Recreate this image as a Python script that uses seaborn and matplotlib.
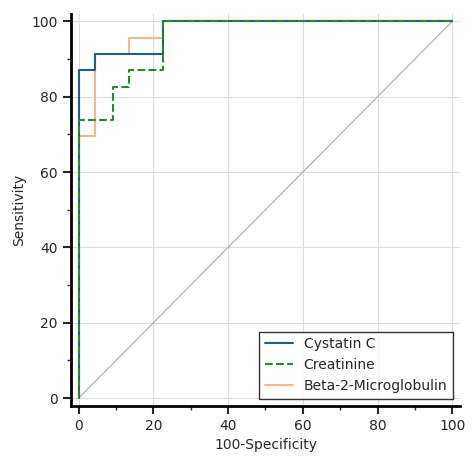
import numpy as np
import pandas as pd
import matplotlib
matplotlib.use("Agg")
import matplotlib.pyplot as plt
import seaborn as sns

# ROC curve points (100-specificity, sensitivity)
cys_x = [0, 0, 4.5, 4.5, 22.7, 22.7, 100]
cys_y = [0, 87.0, 87.0, 91.3, 91.3, 100, 100]
cre_x = [0, 0, 9.1, 9.1, 13.6, 13.6, 22.7, 22.7, 100]
cre_y = [0, 73.9, 73.9, 82.6, 82.6, 87.0, 87.0, 100, 100]
b2m_x = [0, 0, 4.5, 4.5, 13.6, 13.6, 22.7, 22.7, 100]
b2m_y = [0, 69.6, 69.6, 91.3, 91.3, 95.7, 95.7, 100, 100]

sns.set_style("white")
plt.rcParams['font.family'] = ['DejaVu Sans']
fig, ax = plt.subplots(figsize=(4.74, 4.61), dpi=100)
ax.grid(True, color="#dddddd", lw=0.8)
ax.plot([0, 100], [0, 100], color="#aaaaaa", lw=0.8)
sns.lineplot(x=b2m_x, y=b2m_y, sort=False, estimator=None, color="#f2b98a", lw=1.5,
             label="Beta-2-Microglobulin", ax=ax, zorder=3)
sns.lineplot(x=cys_x, y=cys_y, sort=False, estimator=None, color="#1f5f8b", lw=1.5,
             label="Cystatin C", ax=ax, zorder=4)
sns.lineplot(x=cre_x, y=cre_y, sort=False, estimator=None, color="#2a8a2a", lw=1.5, ls="--",
             label="Creatinine", ax=ax, zorder=5)

h, l = ax.get_legend_handles_labels()
order = [1, 2, 0]
leg = ax.legend([h[i] for i in order], [l[i] for i in order], loc="lower right",
                fancybox=False, edgecolor="black", fontsize=10)
leg.get_frame().set_linewidth(1.0)

ax.set_xlim(-2, 102)
ax.set_ylim(-2, 102)
ax.set_xticks(range(0, 101, 20))
ax.set_yticks(range(0, 101, 20))
ax.set_xticks(range(0, 101, 10), minor=True)
ax.set_yticks(range(0, 101, 10), minor=True)
ax.tick_params(which="both", direction="out", bottom=True, left=True, labelsize=10)
ax.tick_params(which="major", length=6, width=1.5)
ax.tick_params(which="minor", length=3, width=1)
for s in ["top", "right"]:
    ax.spines[s].set_visible(False)
for s in ["left", "bottom"]:
    ax.spines[s].set_linewidth(2)
    ax.spines[s].set_color("black")
ax.set_xlabel("100-Specificity", fontsize=10)
ax.set_ylabel("Sensitivity", fontsize=10)
fig.subplots_adjust(left=0.15, right=0.97, top=0.97, bottom=0.12)
fig.savefig("out.png")
